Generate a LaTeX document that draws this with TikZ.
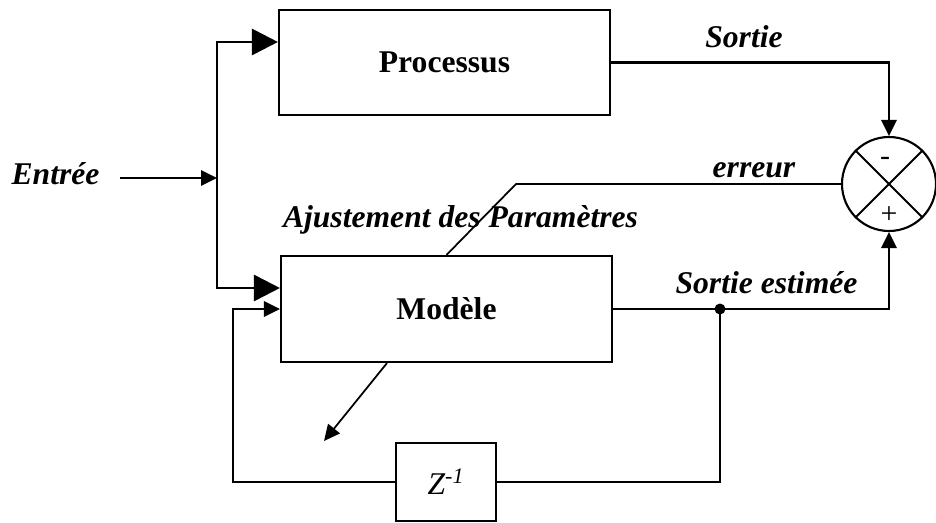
\documentclass[tikz,border=0pt]{standalone}
\usepackage{fontspec}
\setmainfont{Liberation Serif}
\usetikzlibrary{arrows.meta, positioning, calc}

\begin{document}
\begin{tikzpicture}[
    block/.style={rectangle, draw, line width=1.2pt, minimum width=6.62cm, minimum height=2.1cm, font=\fontsize{18}{22}\selectfont\bfseries},
    lbl/.style={font=\fontsize{18}{22}\selectfont\bfseries\itshape, anchor=base, inner sep=0pt},
    wire/.style={line width=1.6pt},
    thinwire/.style={line width=1pt},
    bigarrow/.style={-{Triangle[length=0.52cm, width=0.52cm]}},
    smallarrow/.style={-{Triangle[length=0.32cm, width=0.3cm]}}
]
\useasboundingbox (0,0) rectangle (18.72,10.44);

% Blocks
\node[block] (proc) at (8.89, 9.19) {Processus};
\node[block, minimum height=2.12cm] (model) at (8.93, 4.26) {Modèle};
\node[rectangle, draw, line width=1.2pt, minimum width=2cm, minimum height=1.56cm, font=\fontsize{18}{22}\selectfont\itshape] (delay) at (8.92, 0.80) {Z\textsuperscript{-1}};

% Comparator
\node[circle, draw, line width=1.2pt, minimum size=1.88cm] (sum) at (17.78, 6.76) {};
\draw[line width=1.2pt] (sum.north west) -- (sum.south east);
\draw[line width=1.2pt] (sum.north east) -- (sum.south west);
\node[font=\fontsize{17}{20}\selectfont] (minus) at (17.70, 7.22) {-};
\node[font=\fontsize{17}{20}\selectfont] (plus) at (17.78, 6.14) {+};

% Input split
\coordinate (in) at (2.40, 6.88);
\coordinate (split) at (4.34, 6.88);
\draw[wire, smallarrow] (in) -- (split);
\draw[wire, bigarrow] (split) |- ($(proc.west)+(0,0.41)$);
\draw[wire, bigarrow] (split) |- ($(model.west)+(0,0.42)$);

% Outputs to comparator
\draw[wire, smallarrow] (proc.east) -| (sum.north);
\draw[wire, smallarrow] (model.east) -| (sum.south);

% Delay loop
\coordinate (branch) at (14.40, 4.26);
\coordinate (fbk) at (4.66, 0.80);
\fill (branch) circle (0.11);
\draw[wire] (branch) |- (delay.east);
\draw[wire, smallarrow] (delay.west) -- (fbk) |- (model.west);

% Error and parameter adjustment
\coordinate (bend) at (10.32, 6.76);
\coordinate (adjtip) at (6.48, 1.62);
\draw[thinwire] (sum.west) -- (bend) -- (model.north);
\draw[thinwire, smallarrow] ($(model.south)+(-1.19,0)$) -- (adjtip);

% Labels
\node[lbl] (entree) at (1.11, 6.74) {Entrée};
\node[lbl] (sortie) at (14.88, 9.48) {Sortie};
\node[lbl] (err) at (15.08, 6.89) {erreur};
\node[lbl] (adjust) at (9.21, 5.89) {Ajustement des Paramètres};
\node[lbl] (estim) at (15.33, 4.58) {Sortie estimée};
\end{tikzpicture}
\end{document}
